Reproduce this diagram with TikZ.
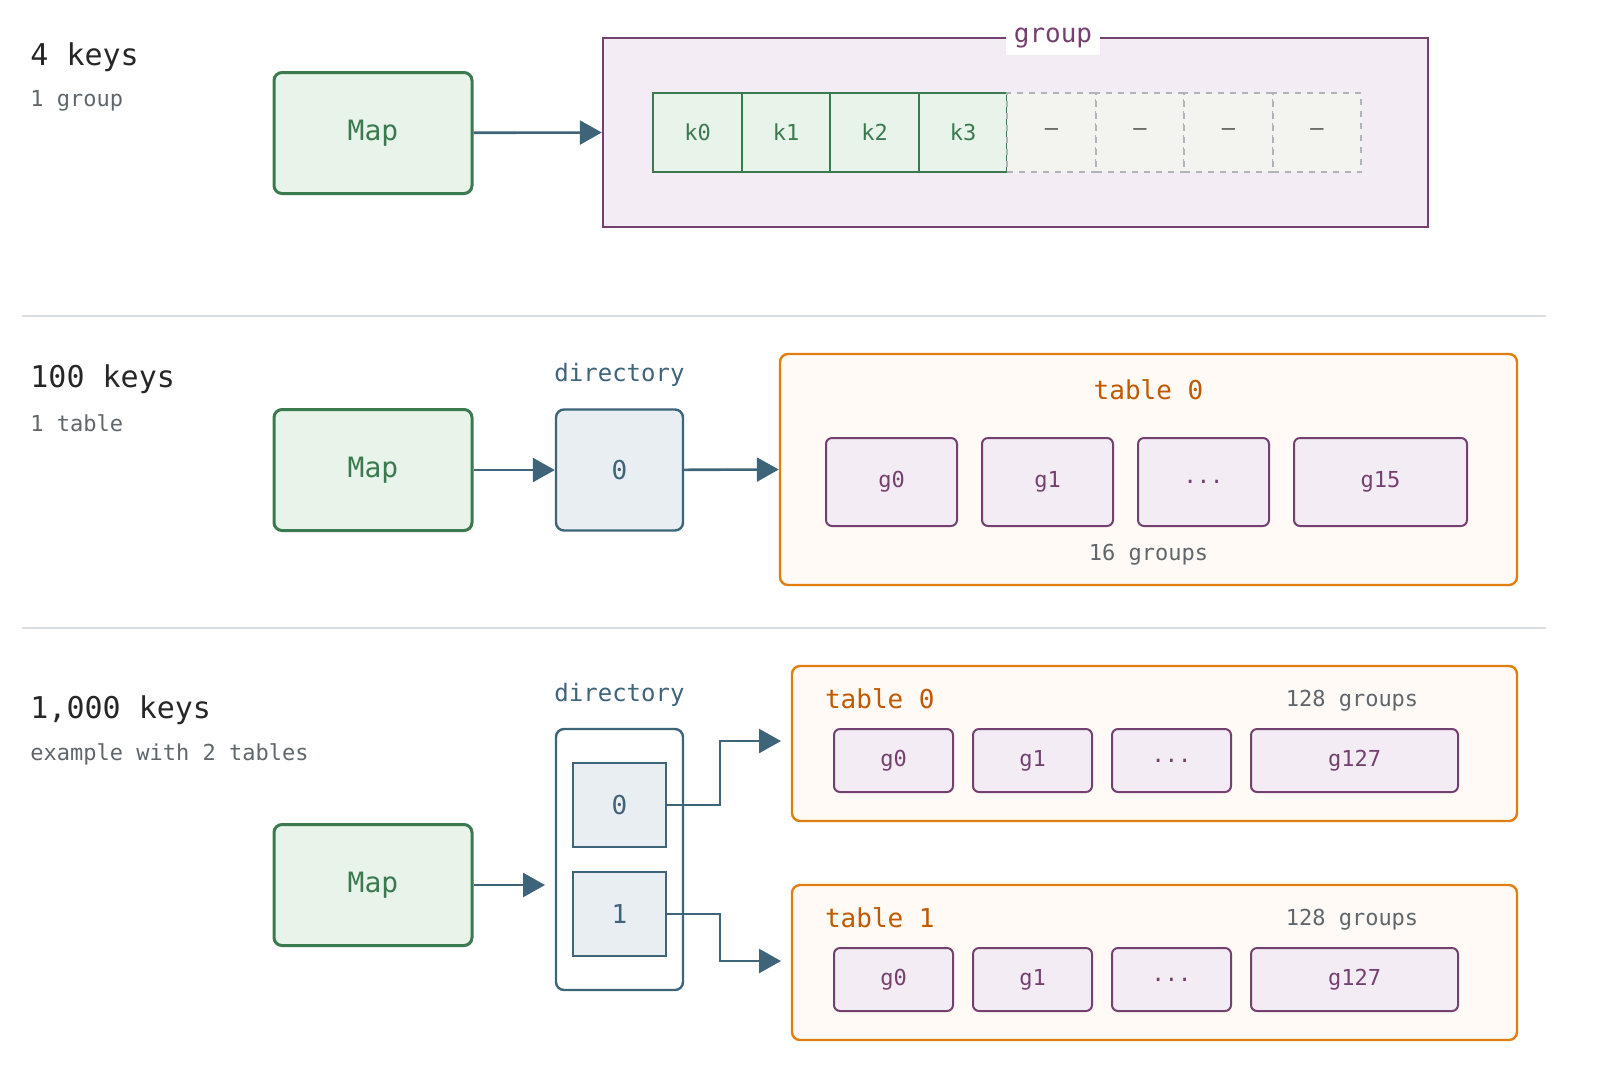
\documentclass[tikz,border=0pt]{standalone}
\usepackage{fontspec}
\setmonofont{DejaVu Sans Mono}
\usetikzlibrary{arrows.meta}
\definecolor{mapgreen}{HTML}{3A7A4E}
\definecolor{mapfill}{HTML}{E8F3EA}
\definecolor{grpline}{HTML}{74406F}
\definecolor{grpfill}{HTML}{F4ECF4}
\definecolor{dirline}{HTML}{3D6478}
\definecolor{dirfill}{HTML}{E8EEF2}
\definecolor{taborange}{HTML}{E07F10}
\definecolor{tabtext}{HTML}{C05A00}
\definecolor{tabfill}{HTML}{FFFAF5}
\definecolor{sepline}{HTML}{D8DEE0}
\definecolor{graytext}{HTML}{5F666B}
\definecolor{emptyline}{HTML}{B0B4B8}
\definecolor{emptyfill}{HTML}{F3F4F0}
\tikzset{
  every node/.style={font=\ttfamily},
  title/.style={anchor=west,inner xsep=0pt,font=\ttfamily\fontsize{15}{18}\selectfont,text=black!85},
  sub/.style={anchor=west,inner xsep=0pt,font=\ttfamily\fontsize{11}{13}\selectfont,text=graytext},
  mapbox/.style={draw=mapgreen,fill=mapfill,line width=1.5pt,rounded corners=4pt,text=mapgreen,
    minimum width=99pt,minimum height=60.5pt,font=\ttfamily\fontsize{14}{16}\selectfont},
  keycell/.style={draw=mapgreen,fill=mapfill,line width=0.8pt,text=mapgreen,
    minimum width=44.25pt,minimum height=39.5pt,font=\ttfamily\fontsize{11}{13}\selectfont},
  freecell/.style={draw=emptyline,fill=emptyfill,dashed,line width=0.8pt,text=black!70,
    minimum width=44.25pt,minimum height=39.5pt,font=\ttfamily\fontsize{11}{13}\selectfont},
  dirbox/.style={draw=dirline,fill=dirfill,line width=1.2pt,text=dirline,
    font=\ttfamily\fontsize{13}{15}\selectfont},
  tabbox/.style={draw=taborange,fill=tabfill,line width=1.2pt,rounded corners=4pt},
  grpbox/.style={draw=grpline,fill=grpfill,line width=1pt,rounded corners=3pt,text=grpline,
    font=\ttfamily\fontsize{11}{13}\selectfont},
  tablabel/.style={text=tabtext,font=\ttfamily\fontsize{13}{15}\selectfont},
  arr/.style={draw=dirline,line width=1.3pt,-{Triangle[length=11pt,width=12pt]}},
}
\begin{document}
\begin{tikzpicture}[x=0.5pt,y=-0.5pt]
% section 1
\node[title] (t1) at (30,57) {4 keys};
\node[sub] (s1) at (30,101) {1 group};
\node[mapbox] (map1) at (373,133) {Map};
\node[draw=grpline,fill=grpfill,line width=1.2pt,minimum width=412.5pt,minimum height=94.5pt] (grp) at (1015.5,132.5) {};
\node[fill=white,inner xsep=4pt,text=grpline,font=\ttfamily\fontsize{13}{15}\selectfont] (grplabel) at (1053,38) {group};
\foreach \i in {0,...,3}
  \node[keycell] (k\i) at (697.5+88.5*\i,132.5) {k\i};
\foreach \i in {4,...,7}
  \node[freecell] (k\i) at (697.5+88.5*\i,132.5) {–};
\draw[arr] (map1) -- (grp.west);
\draw[sepline,line width=1pt] (22,316) -- (1546,316);
% section 2
\node[title] (t2) at (30,379) {100 keys};
\node[sub] (s2) at (30,423) {1 table};
\node[mapbox] (map2) at (373,470) {Map};
\node[dirbox,rounded corners=4pt,minimum width=63.5pt,minimum height=60.5pt] (dir2) at (619.5,470) {0};
\node[text=dirline,font=\ttfamily\fontsize{12}{14}\selectfont] (dl2) at (619.5,375) {directory};
\node[tabbox,minimum width=368.5pt,minimum height=115.5pt] (tab2) at (1148.5,469.5) {};
\node[tablabel] (tl2) at (1148.5,390) {table 0};
\node[grpbox,minimum width=65.5pt,minimum height=44pt] (g20) at (891.5,482) {g0};
\node[grpbox,minimum width=65.5pt,minimum height=44pt] (g21) at (1047.5,482) {g1};
\node[grpbox,minimum width=65.5pt,minimum height=44pt] (g22) at (1203.5,482) {...};
\node[grpbox,minimum width=86.5pt,minimum height=44pt] (g23) at (1380.5,482) {g15};
\node[text=graytext,font=\ttfamily\fontsize{11}{13}\selectfont] (n2) at (1148.5,555) {16 groups};
\draw[arr] (map2) -- (dir2);
\draw[arr] (dir2) -- (tab2.west);
\draw[sepline,line width=1pt] (22,628) -- (1546,628);
% section 3
\node[title] (t3) at (30,710) {1,000 keys};
\node[sub] (s3) at (30,754) {example with 2 tables};
\node[mapbox] (map3) at (373,885) {Map};
\node[text=dirline,font=\ttfamily\fontsize{12}{14}\selectfont] (dl3) at (619.5,695) {directory};
\node[draw=dirline,fill=white,line width=1.2pt,rounded corners=4pt,minimum width=63.5pt,minimum height=130.5pt] (dir3) at (619.5,859.5) {};
\node[dirbox,minimum width=46.5pt,minimum height=42pt] (d0) at (619.5,805) {0};
\node[dirbox,minimum width=46.5pt,minimum height=42pt] (d1) at (619.5,914) {1};
\foreach \t/\y in {0/743.5,1/962.5} {
  \node[tabbox,minimum width=362.5pt,minimum height=77.5pt] (tab\t) at (1154.5,\y) {};
  \node[tablabel,anchor=west] (tl\t) at (818,\y-45) {table \t};
  \node[text=graytext,font=\ttfamily\fontsize{11}{13}\selectfont] (n\t) at (1352,\y-43) {128 groups};
  \node[grpbox,minimum width=59.5pt,minimum height=31.5pt] (g\t a) at (893.5,\y+17) {g0};
  \node[grpbox,minimum width=59.5pt,minimum height=31.5pt] (g\t b) at (1032.5,\y+17) {g1};
  \node[grpbox,minimum width=59.5pt,minimum height=31.5pt] (g\t c) at (1171.5,\y+17) {...};
  \node[grpbox,minimum width=103.5pt,minimum height=31.5pt] (g\t d) at (1354.5,\y+17) {g127};
}
\coordinate (e0) at (781,741);
\coordinate (e1) at (781,961);
\draw[arr] (map3) -- (545,885);
\draw[arr] (d0.east) -- (720,805) |- (e0);
\draw[arr] (d1.east) -- (720,914) |- (e1);
\pgfresetboundingbox
\path[use as bounding box] (0,0) rectangle (1600,1084);
\end{tikzpicture}
\end{document}
